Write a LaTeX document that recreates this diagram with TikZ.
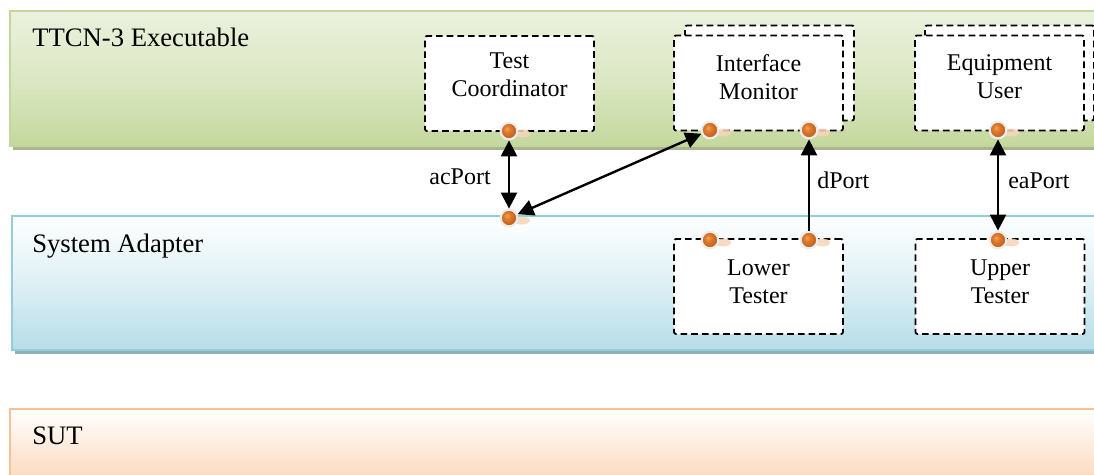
\documentclass[tikz,border=0pt]{standalone}
\usepackage{fontspec}
\setmainfont{Liberation Serif}
\usetikzlibrary{arrows.meta,shadings}
\definecolor{grnBorder}{HTML}{C3D69B}
\definecolor{grnTop}{HTML}{EBF1DE}
\definecolor{grnMid}{HTML}{DCE7C4}
\definecolor{grnBot}{HTML}{C4D89D}
\definecolor{grnShadow}{HTML}{A9B590}
\definecolor{bluBorder}{HTML}{92CDDC}
\definecolor{bluBot}{HTML}{B7DDE8}
\definecolor{bluShadow}{HTML}{8FAFB8}
\definecolor{orgBorder}{HTML}{FAC090}
\definecolor{orgBot}{HTML}{FBD4B4}
\definecolor{portHi}{HTML}{F2A25E}
\definecolor{portOrange}{HTML}{DE7A2C}
\definecolor{portDark}{HTML}{B45A18}
\definecolor{portHalo}{HTML}{ECECEC}
\definecolor{peach}{HTML}{F9D5BA}
\pgfdeclareradialshading{portball}{\pgfpoint{-7bp}{7bp}}{%
  color(0bp)=(portHi); color(10bp)=(portOrange); color(30bp)=(portDark); color(50bp)=(portDark)}
\begin{document}
\begin{tikzpicture}[x=0.75pt,y=-0.75pt,
  bandtitle/.style={anchor=base west,inner sep=0pt,font=\fontsize{20}{24}\selectfont},
  comp/.style={draw=black,line width=1.35pt,dash pattern=on 5pt off 3pt,fill=white,rounded corners=1.5pt,
    minimum width=126.75pt,minimum height=71.25pt,inner sep=0pt},
  comptext/.style={align=center,inner sep=0pt,font=\fontsize{18}{21}\selectfont},
  portlabel/.style={inner sep=0pt,font=\fontsize{18}{21}\selectfont},
  port/.style={circle,minimum size=12.5pt,inner sep=0pt,shading=portball,
    draw=portHalo,line width=1.6pt},
  conn/.style={line width=1.8pt,{Triangle[length=12pt,width=12pt]}-{Triangle[length=12pt,width=12pt]}},
  connone/.style={line width=1.8pt,-{Triangle[length=12pt,width=12pt]}}
]
\useasboundingbox (0,0) rectangle (1094,474);
\clip (0,0) rectangle (1094,474);
\fill[white] (0,0) rectangle (1094,474);

% --- bands ---
\fill[grnShadow] (13,14) rectangle (1110,150);
\shade[top color=grnTop,bottom color=grnBot,middle color=grnMid,draw=grnBorder,line width=1.6pt]
  (10,11) rectangle (1110,146);
\fill[bluShadow] (15,219) rectangle (1110,354);
\shade[top color=white,bottom color=bluBot,middle color=white!55!bluBot,draw=bluBorder,line width=1.6pt]
  (12,216) rectangle (1110,350);
\shade[top color=white,bottom color=orgBot,draw=orgBorder,line width=1.6pt]
  (10,409) rectangle (1110,490);

\node[bandtitle] (ttcn) at (32,47) {TTCN-3 Executable};
\node[bandtitle] (sa) at (32,252) {System Adapter};
\node[bandtitle] (sut) at (32,444) {SUT};

% --- components ---
\node[comp] (tc) at (509.5,83.5) {};
\node[comptext] (tcT) at (509.5,75) {Test\\Coordinator};

\node[comp] (imB) at (769.5,73) {};
\node[comp] (im) at (758.5,83) {};
\node[comptext] (imT) at (758.5,77) {Interface\\Monitor};

\node[comp] (euB) at (1009.5,73) {};
\node[comp] (eu) at (999.5,83) {};
\node[comptext] (euT) at (999.5,77) {Equipment\\User};

\node[comp] (lt) at (758.5,286.5) {};
\node[comptext] (ltT) at (758.5,282) {Lower\\Tester};

\node[comp] (ut) at (1000,286.5) {};
\node[comptext] (utT) at (1000,282) {Upper\\Tester};

% --- port shadows ---
\foreach \px/\py in {509/131,710/130,809/130,998/130,509/218,710/240,809/240,998/240}{
  \fill[peach,opacity=0.85] (\px+13,\py+2.5) ellipse (8 and 4);
}

% --- ports ---
\node[port] (pTC) at (509,131) {};
\node[port] (pIM1) at (710,130) {};
\node[port] (pIM2) at (809,130) {};
\node[port] (pEU) at (998,130) {};
\node[port] (pSA) at (509,218) {};
\node[port] (pLT1) at (710,240) {};
\node[port] (pLT2) at (809,240) {};
\node[port] (pUT) at (998,240) {};

% --- connectors ---
\draw[conn] (pTC) -- (pSA);
\draw[conn] (pSA) -- (pIM1);
\draw[connone] (pLT2) -- (pIM2);
\draw[conn] (pEU) -- (pUT);

\node[portlabel,anchor=base east] (lac) at (491,184) {acPort};
\node[portlabel,anchor=base west] (ld) at (817,188) {dPort};
\node[portlabel,anchor=base west] (lea) at (1008,188) {eaPort};
\end{tikzpicture}
\end{document}
